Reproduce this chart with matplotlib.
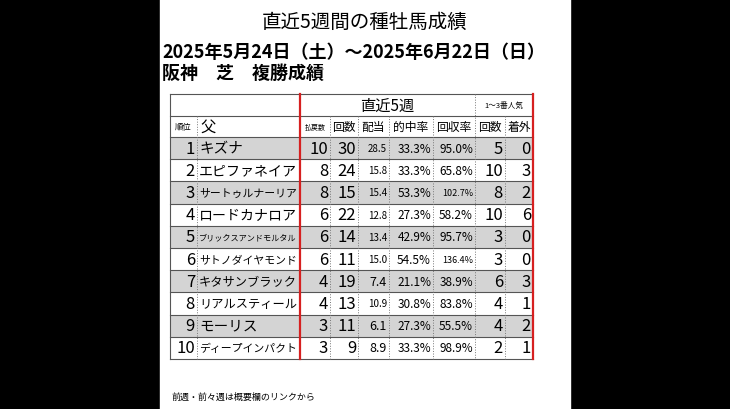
import matplotlib.pyplot as plt
from matplotlib.patches import Rectangle

plt.rcParams['font.family'] = 'Noto Sans CJK JP'

ranks = [1, 2, 3, 4, 5, 6, 7, 8, 9, 10]
sires = ['キズナ', 'エピファネイア', 'サートゥルナーリア', 'ロードカナロア', 'ブリックスアンドモルタル',
         'サトノダイヤモンド', 'キタサンブラック', 'リアルスティール', 'モーリス', 'ディープインパクト']
payouts = [10, 8, 8, 6, 6, 6, 4, 4, 3, 3]
runs = [30, 24, 15, 22, 14, 11, 19, 13, 11, 9]
avg_pay = ['28.5', '15.8', '15.4', '12.8', '13.4', '15.0', '7.4', '10.9', '6.1', '8.9']
hit_rate = ['33.3%', '33.3%', '53.3%', '27.3%', '42.9%', '54.5%', '21.1%', '30.8%', '27.3%', '33.3%']
return_rate = ['95.0%', '65.8%', '102.7%', '58.2%', '95.7%', '136.4%', '38.9%', '83.8%', '55.5%', '98.9%']
fav_runs = [5, 10, 8, 10, 3, 3, 6, 4, 4, 2]
fav_out = [0, 3, 2, 6, 0, 0, 3, 1, 2, 1]
col_heads = ['順位', '父', '払戻数', '回数', '配当', '的中率', '回収率', '回数', '着外']

fig = plt.figure(figsize=(7.3, 4.1), dpi=100, facecolor='black')
ax = fig.add_axes([0, 0, 1, 1])
ax.set_xlim(0, 730)
ax.set_ylim(410, 0)
ax.axis('off')
ax.add_patch(Rectangle((160, 0), 410, 410, color='white'))

ax.text(365, 22, '直近5週間の種牡馬成績', ha='center', va='center', fontsize=14)
ax.text(162, 52, '2025年5月24日（土）～2025年6月22日（日）', ha='left', va='center',
        fontsize=13, fontweight='bold')
ax.text(162, 73, '阪神　芝　複勝成績', ha='left', va='center', fontsize=13, fontweight='bold')
ax.text(172, 397, '前週・前々週は概要欄のリンクから', ha='left', va='center', fontsize=6.5)

xs = [170, 197, 300, 330, 358, 389, 433, 475, 505, 533]
top, h1, h2, rh = 95, 117, 138, 22.2
bottom = h2 + rh * len(ranks)

for i in range(len(ranks)):
    y = h2 + i * rh
    if i % 2 == 0:
        ax.add_patch(Rectangle((xs[0], y), xs[-1] - xs[0], rh, color='#d4d4d4', lw=0))
    ax.plot([xs[0], xs[-1]], [y, y], color='#555555', lw=0.8)
ax.plot([xs[0], xs[-1]], [h1, h1], color='#555555', lw=0.8)
ax.plot([xs[0], xs[-1]], [top, top], color='#555555', lw=0.8)
ax.plot([xs[0], xs[-1]], [bottom, bottom], color='#555555', lw=0.8)
ax.plot([xs[0], xs[0]], [top, bottom], color='#555555', lw=0.8)
for j, x in enumerate(xs[1:-1], start=1):
    if j == 2:
        continue
    y0 = top if j == 7 else h1
    ax.plot([x, x], [y0, bottom], color='#777777', lw=0.7, ls=':')
ax.plot([xs[2], xs[2]], [top, bottom], color='#d62020', lw=1.6)
ax.plot([xs[-1], xs[-1]], [top, bottom], color='#d62020', lw=1.6)

ax.text((xs[2] + xs[7]) / 2, (top + h1) / 2, '直近5週', ha='center', va='center', fontsize=11)
ax.text((xs[7] + xs[9]) / 2, (top + h1) / 2, '1～3番人気', ha='center', va='center', fontsize=5.5)
hsize = [6, 11, 5, 8.5, 8.5, 8.5, 8.5, 8.5, 8.5]
for j, lab in enumerate(col_heads):
    if j == 1:
        ax.text(xs[1] + 3, (h1 + h2) / 2, lab, ha='left', va='center', fontsize=hsize[j])
    else:
        ax.text((xs[j] + xs[j + 1]) / 2, (h1 + h2) / 2, lab, ha='center', va='center', fontsize=hsize[j])

for i in range(len(ranks)):
    yc = h2 + i * rh + rh / 2
    cells = [str(ranks[i]), sires[i], str(payouts[i]), str(runs[i]), avg_pay[i],
             hit_rate[i], return_rate[i], str(fav_runs[i]), str(fav_out[i])]
    for j, s in enumerate(cells):
        if j == 1:
            fs = min(10.5, 98 / (len(s) * 1.39))
            ax.text(xs[1] + 2, yc, s, ha='left', va='center', fontsize=fs)
            continue
        if j == 4:
            fs = 9 if len(s) == 3 else 7
        elif j in (5, 6):
            fs = 6.5 if len(s) > 5 else 8.5
        else:
            fs = 12
        ax.text(xs[j + 1] - 2, yc, s, ha='right', va='center', fontsize=fs)

fig.savefig('out.png', dpi=100, facecolor='black')
